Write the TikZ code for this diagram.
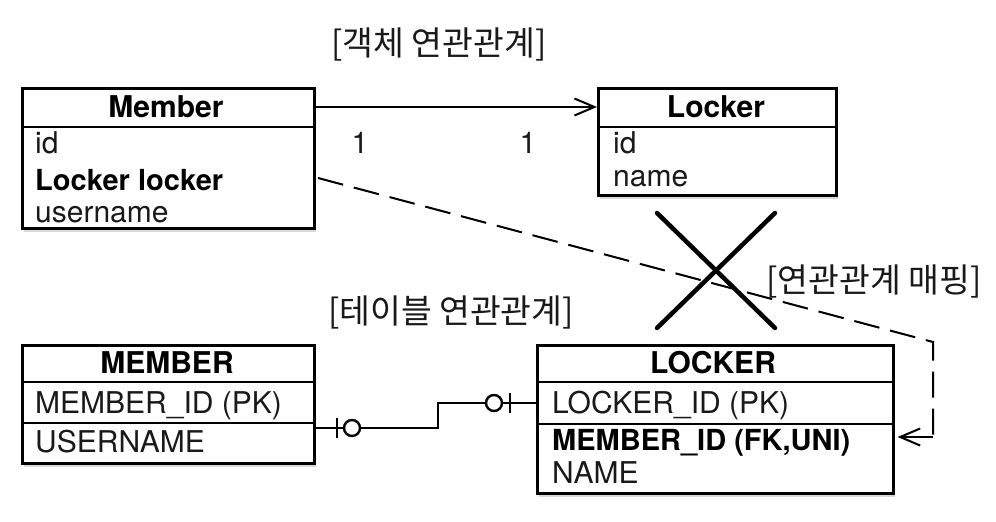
\documentclass[tikz,border=0pt]{standalone}
\usepackage{fontspec}
\setmainfont{TeX Gyre Heros}
\newfontfamily\kr{Noto Sans CJK KR}
\usetikzlibrary{arrows.meta,shadows,calc}
\begin{document}
\begin{tikzpicture}[x=1pt,y=-1pt,
  tbl/.style={draw, line width=2.6pt, fill=white, anchor=north west, inner sep=0pt,
    drop shadow={shadow xshift=2pt,shadow yshift=-4pt,opacity=0.3}},
  sepline/.style={line width=2.6pt},
  hdr/.style={anchor=base, font=\fontsize{30}{31}\selectfont\bfseries, inner sep=0pt},
  fld/.style={anchor=base west, font=\fontsize{30}{31}\selectfont, inner sep=0pt, text=black!90},
  bfld/.style={fld, font=\fontsize{29}{30}\selectfont\bfseries, text=black},
  krlabel/.style={font=\kr\fontsize{33.5}{35}\selectfont, inner sep=0pt, text=black!90},
  conn/.style={line width=2pt},
  erline/.style={line width=2.4pt},
  barb/.style={-{Straight Barb[length=20pt,width=17pt,line width=2pt]}},
  dashconn/.style={line width=2pt, dash pattern=on 26pt off 11pt},
  cross/.style={line width=4.5pt, line cap=round}
]
\useasboundingbox (0,0) rectangle (996,522);

% titles
\node[krlabel] (t1) at (439,44) {[객체 연관관계]};
\node[krlabel] (t2) at (451,312) {[테이블 연관관계]};
\node[krlabel] (t3) at (874,281) {[연관관계 매핑]};

% object boxes
\node[tbl, minimum width=292pt, minimum height=140pt] (member) at (21,87) {};
\draw[sepline] (21,127) -- (313,127);
\node[hdr] (memberH) at (166,117) {Member};
\node[fld] (mId) at (35,153) {id};
\node[bfld] (mLocker) at (35,190) {Locker locker};
\node[fld] (mUser) at (35,222) {username};

\node[tbl, minimum width=238pt, minimum height=107pt] (locker) at (597,87) {};
\draw[sepline] (597,127) -- (835,127);
\node[hdr] (lockerH) at (716,117) {Locker};
\node[fld] (lId) at (613,153) {id};
\node[fld] (lName) at (613,186) {name};

% association arrow
\draw[conn,barb] (member.east |- 0,107) -- (locker.west |- 0,107);
\node[fld, anchor=base] (one1) at (360,153) {1};
\node[fld, anchor=base] (one2) at (528,153) {1};

% table boxes
\node[tbl, minimum width=292pt, minimum height=118pt] (memberT) at (21,344) {};
\draw[sepline] (21,382) -- (313,382);
\draw[sepline] (21,423) -- (313,423);
\node[hdr] (memberTH) at (167,373) {MEMBER};
\node[fld] (mtId) at (35,413) {MEMBER\_ID (PK)};
\node[fld] (mtUser) at (35,452) {USERNAME};

\node[tbl, minimum width=356pt, minimum height=148pt] (lockerT) at (536,344) {};
\draw[sepline] (536,382) -- (892,382);
\draw[sepline] (536,424) -- (892,424);
\node[hdr] (lockerTH) at (713,373) {LOCKER};
\node[fld] (ltId) at (552,413) {LOCKER\_ID (PK)};
\node[bfld] (ltFk) at (552,450) {MEMBER\_ID (FK,UNI)};
\node[fld] (ltName) at (552,483) {NAME};

% ER connector
\coordinate (erA) at (438,428);
\coordinate (erB) at (438,403);
\draw[erline] (memberT.east |- erA) -- (erA) -- (erB) -- (lockerT.west |- erB);
\draw[erline] (337,418) -- (337,438);
\draw[erline, fill=white] (352,428) circle (8pt);
\draw[erline] (510,393) -- (510,413);
\draw[erline, fill=white] (494,403) circle (8pt);

% mapping dashed connector
\coordinate (ds) at (318,178);
\coordinate (dc1) at (933,342);
\coordinate (dc2) at (933,437);
\draw[dashconn] (ds) -- (dc1) -- (dc2);
\draw[conn,barb] (dc2) -- ([xshift=3pt]lockerT.east |- dc2);

% cross
\draw[cross] (657,213) -- (775,328);
\draw[cross] (775,213) -- (657,328);
\end{tikzpicture}
\end{document}
